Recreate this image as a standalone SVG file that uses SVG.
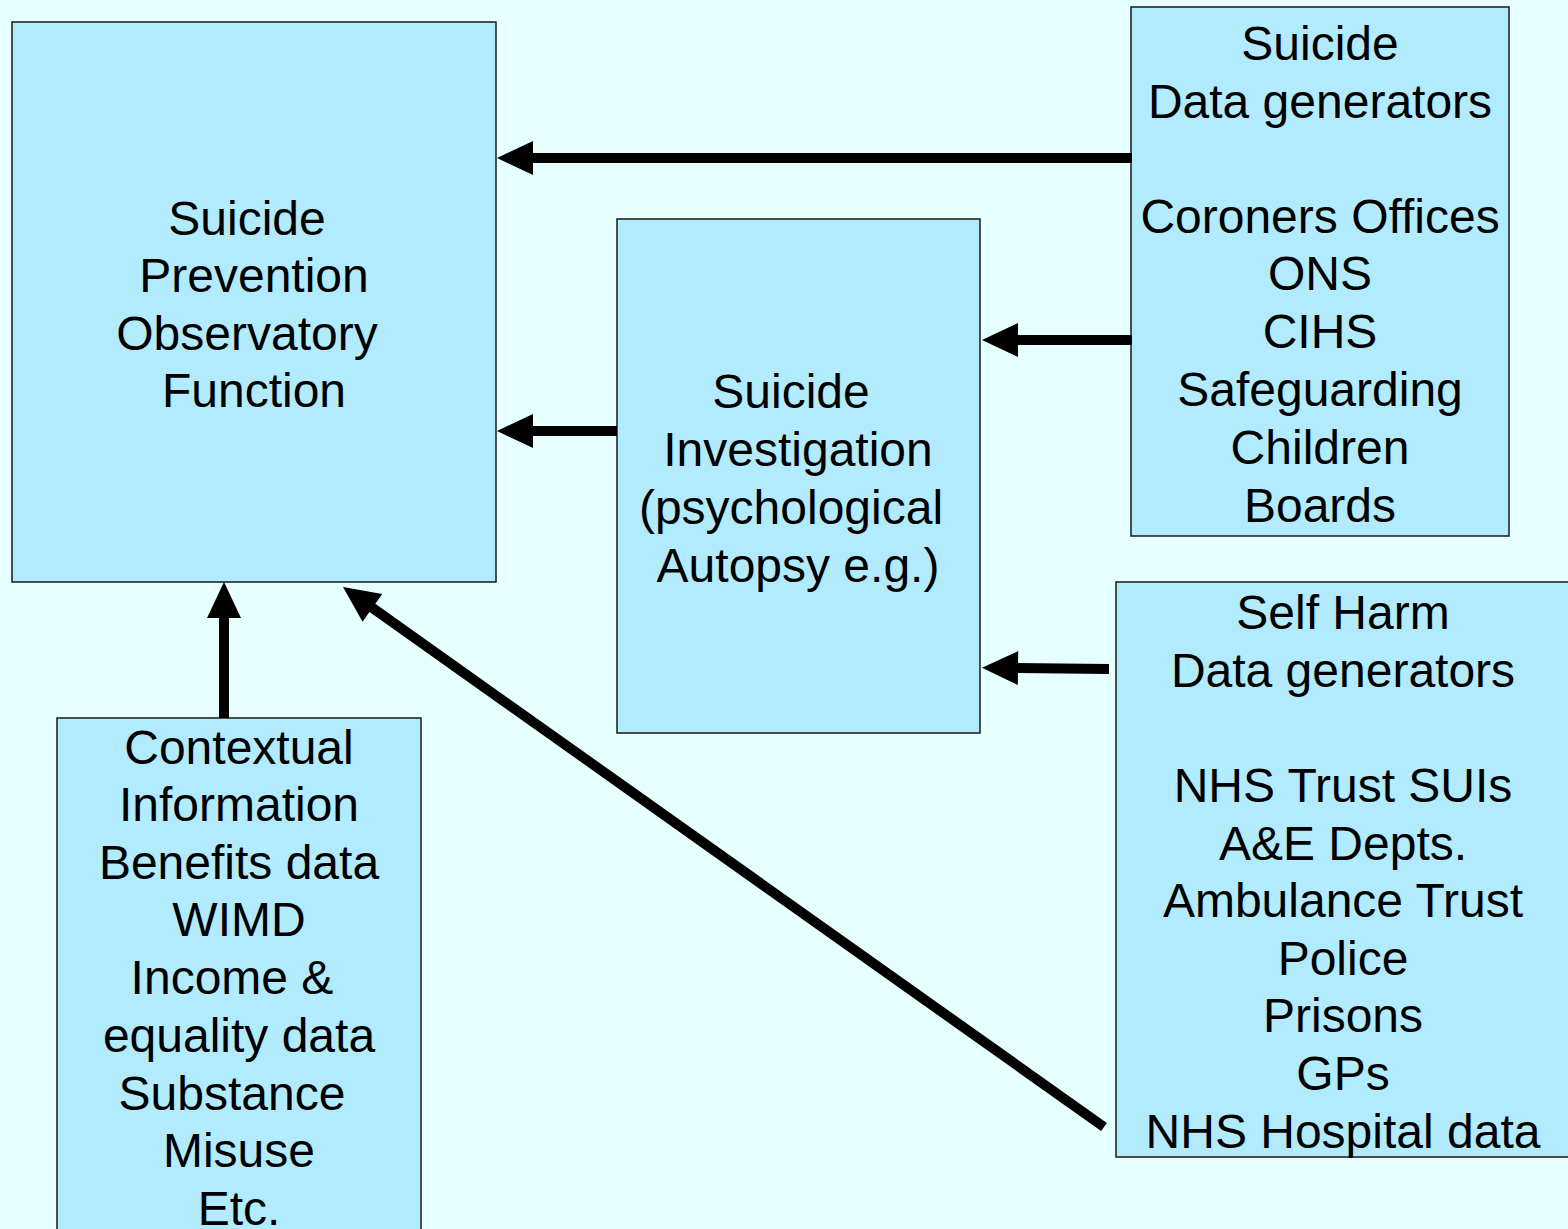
<svg xmlns="http://www.w3.org/2000/svg" width="1568" height="1229" viewBox="0 0 1568 1229">
<defs>
<marker id="ah" markerUnits="userSpaceOnUse" markerWidth="36" markerHeight="34" refX="6" refY="17" orient="auto" overflow="visible">
<path d="M0,0 L36,17 L0,34 z" fill="#000"/>
</marker>
<style>
.box{fill:#B2EBFE;stroke:#1a1a1a;stroke-width:1.5}
.t{font-family:"Liberation Sans",Arial,sans-serif;font-size:48px;fill:#000;text-anchor:middle}
.c{stroke:#000;stroke-width:10;fill:none;marker-end:url(#ah)}
</style>
</defs>
<rect width="1568" height="1229" fill="#E6FFFF"/>
<g id="observatory">
<rect class="box" x="12" y="22" width="484" height="560"/>
<text class="t"><tspan x="247" y="235">Suicide</tspan><tspan x="254" y="292">Prevention</tspan><tspan x="247" y="350">Observatory</tspan><tspan x="254" y="407">Function</tspan></text>
</g>
<g id="investigation">
<rect class="box" x="617" y="219" width="363" height="514"/>
<text class="t"><tspan x="791" y="408">Suicide</tspan><tspan x="798" y="466">Investigation</tspan><tspan x="791" y="524">(psychological</tspan><tspan x="798" y="582">Autopsy e.g.)</tspan></text>
</g>
<g id="suicide-data">
<rect class="box" x="1131" y="7" width="378" height="529"/>
<text class="t"><tspan x="1320" y="60">Suicide</tspan><tspan x="1320" y="118">Data generators</tspan><tspan x="1320" y="233">Coroners Offices</tspan><tspan x="1320" y="290">ONS</tspan><tspan x="1320" y="348">CIHS</tspan><tspan x="1320" y="406">Safeguarding</tspan><tspan x="1320" y="464">Children</tspan><tspan x="1320" y="522">Boards</tspan></text>
</g>
<g id="selfharm-data">
<rect class="box" x="1116" y="582" width="460" height="575"/>
<text class="t"><tspan x="1343" y="629">Self Harm</tspan><tspan x="1343" y="687">Data generators</tspan><tspan x="1343" y="802">NHS Trust SUIs</tspan><tspan x="1343" y="860">A&amp;E Depts.</tspan><tspan x="1343" y="917">Ambulance Trust</tspan><tspan x="1343" y="975">Police</tspan><tspan x="1343" y="1032">Prisons</tspan><tspan x="1343" y="1090">GPs</tspan><tspan x="1343" y="1148">NHS Hospital data</tspan></text>
</g>
<g id="contextual">
<rect class="box" x="57" y="718" width="364" height="530"/>
<text class="t"><tspan x="239" y="764">Contextual</tspan><tspan x="239" y="821">Information</tspan><tspan x="239" y="879">Benefits data</tspan><tspan x="239" y="936">WIMD</tspan><tspan x="232" y="994">Income &amp;</tspan><tspan x="239" y="1052">equality data</tspan><tspan x="232" y="1110">Substance</tspan><tspan x="239" y="1167">Misuse</tspan><tspan x="239" y="1225">Etc.</tspan></text>
</g>
<g id="connectors">
<line class="c" x1="1132" y1="158" x2="527" y2="158"/>
<line class="c" x1="1132" y1="340" x2="1012" y2="340"/>
<line class="c" x1="1109" y1="669" x2="1012" y2="668"/>
<line class="c" x1="617" y1="431" x2="527" y2="431"/>
<line class="c" x1="224" y1="718" x2="224" y2="612"/>
<line class="c" x1="1104" y1="1127" x2="367.5" y2="604.4"/>
</g>
</svg>
